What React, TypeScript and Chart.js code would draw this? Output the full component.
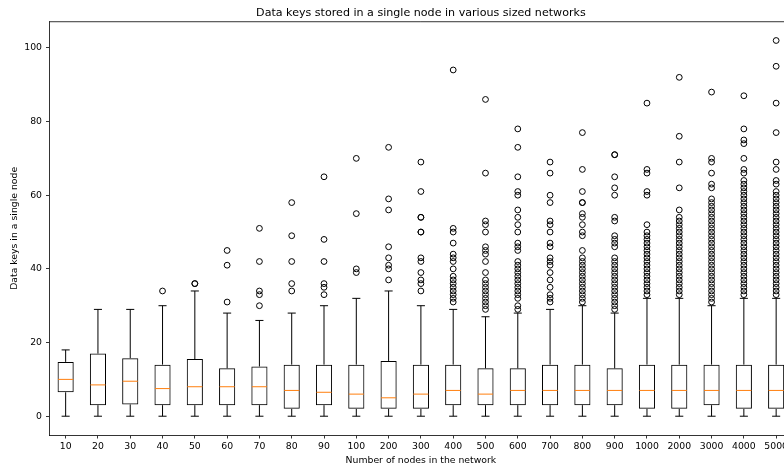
import React, { useEffect, useRef } from "react";
import { Chart, registerables } from "chart.js";

Chart.register(...registerables);

const categories = ["10", "20", "30", "40", "50", "60", "70", "80", "90", "100", "200", "300", "400", "500", "600", "700", "800", "900", "1000", "2000", "3000", "4000", "5000"];

const whiskerLow = [0, 0, 0, 0, 0, 0, 0, 0, 0, 0, 0, 0, 0, 0, 0, 0, 0, 0, 0, 0, 0, 0, 0];
const q1 = [6.5, 3, 3.2, 3, 3, 3, 3, 2, 3, 2, 2, 2, 3, 3, 3, 3, 3, 3, 2, 2, 3, 2, 2];
const medians = [10, 8.5, 9.5, 7.5, 8, 8, 8, 7, 6.5, 6, 5, 6, 7, 6, 7, 7, 7, 7, 7, 7, 7, 7, 7];
const q3 = [14.75, 17, 15.75, 14, 15.5, 13, 13.5, 14, 14, 14, 15, 14, 14, 13, 13, 14, 14, 13, 14, 14, 14, 14, 14];
const whiskerHigh = [18, 29, 29, 30, 34, 28, 26, 28, 30, 32, 34, 30, 29, 27, 28, 29, 30, 28, 32, 32, 30, 32, 32];

const outliers: number[][] = [
  [],
  [],
  [],
  [34],
  [36, 36],
  [45, 41, 31],
  [51, 42, 34, 33, 30],
  [58, 49, 42, 36, 34],
  [65, 48, 42, 36, 35, 33],
  [70, 55, 40, 39],
  [73, 59, 56, 46, 43, 41, 40, 37],
  [69, 61, 54, 54, 50, 50, 43, 42, 39, 37, 36, 34],
  [94, 51, 50, 47, 44, 43, 42, 40, 38, 37, 36, 35, 34, 33, 32, 31],
  [86, 66, 53, 52, 50, 46, 45, 44, 42, 39, 37, 36, 35, 34, 33, 32, 31, 30, 29],
  [78, 73, 65, 61, 60, 56, 54, 52, 50, 47, 46, 45, 42, 41, 40, 39, 38, 37, 36, 35, 34, 33, 32, 30, 29],
  [69, 66, 60, 58, 53, 52, 50, 47, 46, 43, 42, 41, 39, 37, 35, 33, 32, 31],
  [77, 67, 61, 58, 58, 55, 54, 52, 50, 49, 45, 43, 42, 41, 40, 39, 38, 37, 36, 35, 34, 33, 32, 31],
  [71, 71, 65, 62, 60, 54, 53, 49, 48, 47, 46, 43, 42, 41, 40, 39, 38, 37, 36, 35, 34, 33, 32, 31, 30, 29],
  [85, 67, 66, 61, 60, 52, 50, 49, 48, 47, 46, 45, 44, 43, 42, 41, 40, 39, 38, 37, 36, 35, 34, 33],
  [92, 76, 69, 62, 56, 54, 53, 52, 51, 50, 49, 48, 47, 46, 45, 44, 43, 42, 41, 40, 39, 38, 37, 36, 35, 34, 33],
  [88, 70, 69, 66, 63, 62, 59, 58, 57, 56, 55, 54, 53, 52, 51, 50, 49, 48, 47, 46, 45, 44, 43, 42, 41, 40, 39, 38, 37, 36, 35, 34, 33, 32, 31],
  [87, 78, 75, 74, 70, 67, 66, 64, 63, 62, 61, 60, 59, 58, 57, 56, 55, 54, 53, 52, 51, 50, 49, 48, 47, 46, 45, 44, 43, 42, 41, 40, 39, 38, 37, 36, 35, 34, 33],
  [102, 95, 85, 77, 69, 67, 64, 63, 61, 60, 59, 58, 57, 56, 55, 54, 53, 52, 51, 50, 49, 48, 47, 46, 45, 44, 43, 42, 41, 40, 39, 38, 37, 36, 35, 34, 33],
];

const yTicks = [0, 20, 40, 60, 80, 100];

const titleText = "Data keys stored in a single node in various sized networks";
const xTitle = "Number of nodes in the network";
const yTitle = "Data keys in a single node";

const FONT = "'DejaVu Sans', sans-serif";

const boxPartsPlugin = {
  id: "boxParts",
  afterDatasetsDraw(chart: any) {
    const { ctx, scales, chartArea } = chart;
    const x = scales.x;
    const y = scales.y;
    const step = x.getPixelForValue(1) - x.getPixelForValue(0);
    const boxW = step * 0.5;
    const capW = step * 0.25;
    const line = (x1: number, y1: number, x2: number, y2: number) => {
      ctx.beginPath();
      ctx.moveTo(x1, y1);
      ctx.lineTo(x2, y2);
      ctx.stroke();
    };
    ctx.save();
    ctx.lineWidth = 1;
    categories.forEach((_, i) => {
      const cx = x.getPixelForValue(i);
      ctx.strokeStyle = "#000";
      line(cx, y.getPixelForValue(q3[i]), cx, y.getPixelForValue(whiskerHigh[i]));
      line(cx, y.getPixelForValue(q1[i]), cx, y.getPixelForValue(whiskerLow[i]));
      line(cx - capW / 2, y.getPixelForValue(whiskerHigh[i]), cx + capW / 2, y.getPixelForValue(whiskerHigh[i]));
      line(cx - capW / 2, y.getPixelForValue(whiskerLow[i]), cx + capW / 2, y.getPixelForValue(whiskerLow[i]));
      ctx.strokeStyle = "#ff7f0e";
      line(cx - boxW / 2 + 0.5, y.getPixelForValue(medians[i]), cx + boxW / 2 - 0.5, y.getPixelForValue(medians[i]));
    });
    ctx.strokeStyle = "#000";
    ctx.lineWidth = 0.8;
    line(chartArea.left, chartArea.top, chartArea.right, chartArea.top);
    line(chartArea.right, chartArea.top, chartArea.right, chartArea.bottom);
    ctx.restore();
  },
};

export default function App() {
  const canvasRef = useRef<HTMLCanvasElement | null>(null);

  useEffect(() => {
    document.body.style.margin = "0";
    const canvas = canvasRef.current;
    if (!canvas) return;
    const scatterData: { x: string; y: number }[] = [];
    outliers.forEach((list, i) => list.forEach((v) => scatterData.push({ x: categories[i], y: v })));

    const chart = new Chart(canvas, {
      type: "bar",
      data: {
        labels: categories,
        datasets: [
          {
            type: "bar",
            data: categories.map((_, i) => [q1[i], q3[i]]) as any,
            backgroundColor: "rgba(0,0,0,0)",
            borderColor: "#000",
            borderWidth: 1,
            borderSkipped: false,
            categoryPercentage: 1,
            barPercentage: 0.5,
          } as any,
          {
            type: "scatter",
            data: scatterData as any,
            pointStyle: "circle",
            pointRadius: 2.9,
            pointBorderWidth: 1,
            pointBackgroundColor: "rgba(0,0,0,0)",
            pointBorderColor: "#000",
            showLine: false,
          } as any,
        ],
      },
      options: {
        responsive: false,
        animation: false,
        devicePixelRatio: 1,
        layout: { padding: { left: 0, right: 49.7, top: 0, bottom: 0 } },
        plugins: {
          legend: { display: false },
          tooltip: { enabled: false },
          title: {
            display: true,
            text: titleText,
            fullSize: false,
            color: "#000",
            font: { family: FONT, size: 11.1, weight: "normal" },
            padding: { top: 6, bottom: 2.4 },
          },
        },
        scales: {
          x: {
            type: "category",
            offset: true,
            afterFit: (s: any) => {
              s.height = 31;
            },
            grid: {
              display: true,
              drawOnChartArea: false,
              drawTicks: true,
              tickLength: 3.5,
              color: "#000",
              lineWidth: 0.8,
              offset: false,
            },
            border: { display: true, color: "#000", width: 0.8 },
            ticks: {
              color: "#000",
              font: { family: FONT, size: 9.3 },
              padding: 2.5,
              maxRotation: 0,
              autoSkip: false,
            },
            title: {
              display: true,
              text: xTitle,
              color: "#000",
              font: { family: FONT, size: 9.3 },
              padding: { top: 0, bottom: -0.5 },
            },
          },
          y: {
            type: "linear",
            min: -5.1,
            max: 107.1,
            afterFit: (s: any) => {
              s.width = 49.5;
            },
            afterBuildTicks: (s: any) => {
              s.ticks = yTicks.map((v) => ({ value: v }));
            },
            grid: {
              display: true,
              drawOnChartArea: false,
              drawTicks: true,
              tickLength: 3.5,
              color: "#000",
              lineWidth: 0.8,
            },
            border: { display: true, color: "#000", width: 0.8 },
            ticks: {
              color: "#000",
              font: { family: FONT, size: 9.3 },
              padding: 4,
            },
            title: {
              display: true,
              text: yTitle,
              color: "#000",
              font: { family: FONT, size: 9.3 },
              padding: { top: 9.4, bottom: 0 },
            },
          },
        },
      } as any,
      plugins: [boxPartsPlugin],
    });
    return () => chart.destroy();
  }, []);

  return (
    <div style={{ position: "fixed", left: 0, top: 0, width: 784, height: 466, overflow: "hidden", background: "#fff" }}>
      <canvas ref={canvasRef} width={842} height={466} style={{ width: 842, height: 466, display: "block" }} />
    </div>
  );
}
